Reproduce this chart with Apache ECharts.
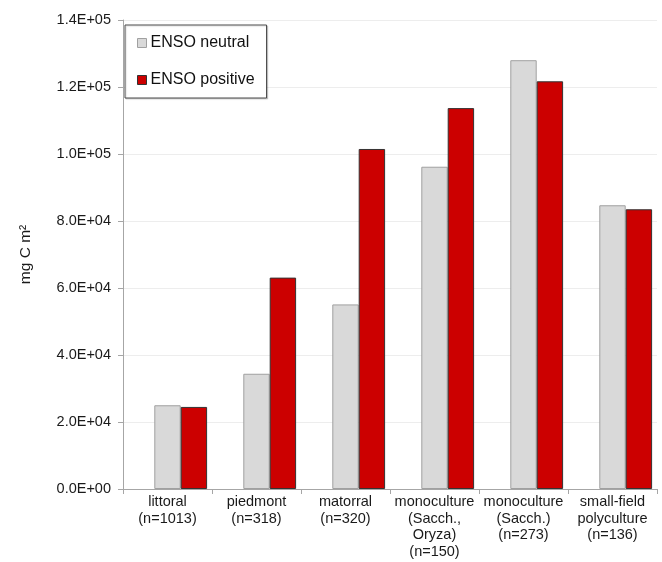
<!DOCTYPE html>
<html>
<head>
<meta charset="utf-8">
<script src="https://cdn.jsdelivr.net/npm/echarts@6/dist/echarts.min.js"></script>
<style>
html,body{margin:0;padding:0;background:#fff;}
#chart{width:662px;height:562px;}
</style>
</head>
<body>
<div id="chart"></div>
<script>
const categories = [
  'littoral\n(n=1013)',
  'piedmont\n(n=318)',
  'matorral\n(n=320)',
  'monoculture\n(Sacch.,\nOryza)\n(n=150)',
  'monoculture\n(Sacch.)\n(n=273)',
  'small-field\npolyculture\n(n=136)'
];
const neutralValues = [25000, 34400, 55100, 96200, 128000, 84700];
const positiveValues = [24500, 63100, 101500, 113700, 121700, 83500];
const spacerValues = [null, null, null, null, null, null];
const yTickLabels = ['0.0E+00','2.0E+04','4.0E+04','6.0E+04','8.0E+04','1.0E+05','1.2E+05','1.4E+05'];
const yStep = 20000;

const font = 'Liberation Sans';
const chart = echarts.init(document.getElementById('chart'));
chart.setOption({
  animation: false,
  backgroundColor: '#fff',
  textStyle: { fontFamily: font },
  grid: { left: 123, right: 5, top: 20, bottom: 73, containLabel: false, outerBoundsMode: 'none' },
  legend: {
    data: [
      { name: 'ENSO neutral', itemStyle: { color: '#d9d9d9', borderColor: '#a0a0a0', borderWidth: 1 } },
      { name: 'ENSO positive', itemStyle: { color: '#cc0000', borderColor: '#333', borderWidth: 1 } }
    ],
    orient: 'vertical',
    left: 125, top: 25,
    width: 120,
    padding: [10, 12, 10, 12],
    itemGap: 21,
    itemWidth: 9, itemHeight: 9,
    icon: 'rect',
    borderColor: '#4a4a4a', borderWidth: 1,
    backgroundColor: '#fff',
    shadowColor: 'rgba(0,0,0,0.15)', shadowBlur: 1, shadowOffsetX: 1, shadowOffsetY: 1,
    textStyle: { fontFamily: font, fontSize: 16, color: '#111', padding: [0,0,0,-1] }
  },
  xAxis: {
    type: 'category',
    data: categories,
    axisLine: { lineStyle: { color: '#a6a6a6', width: 1 } },
    axisTick: { show: true, length: 5, lineStyle: { color: '#a6a6a6' } },
    axisLabel: { interval: 0, fontFamily: font, fontSize: 14.5, color: '#1a1a1a', lineHeight: 16.5, margin: 5 }
  },
  yAxis: {
    type: 'value',
    min: 0, max: 140000, interval: yStep,
    name: 'mg C m²',
    nameLocation: 'middle',
    nameGap: 89,
    nameTextStyle: { fontFamily: font, fontSize: 15.5, color: '#1a1a1a' },
    axisLine: { show: true, lineStyle: { color: '#a6a6a6', width: 1 } },
    axisTick: { show: true, length: 5, lineStyle: { color: '#a6a6a6' } },
    axisLabel: {
      fontFamily: font, fontSize: 14.5, color: '#1a1a1a', margin: 12,
      formatter: function (v) { return yTickLabels[Math.round(v / yStep)]; }
    },
    splitLine: { show: true, lineStyle: { color: '#ededed', width: 1 } }
  },
  series: [
    { name: 'spacer', type: 'bar', data: spacerValues, barGap: '0%', barCategoryGap: '11%', silent: true },
    { name: 'ENSO neutral', type: 'bar', data: neutralValues, barGap: '0%', barCategoryGap: '11%',
      itemStyle: { color: '#d9d9d9', borderColor: '#a0a0a0', borderWidth: 1 } },
    { name: 'ENSO positive', type: 'bar', data: positiveValues, barGap: '0%', barCategoryGap: '11%',
      itemStyle: { color: '#cc0000', borderColor: '#333', borderWidth: 1 } }
  ]
});
</script>
</body>
</html>
